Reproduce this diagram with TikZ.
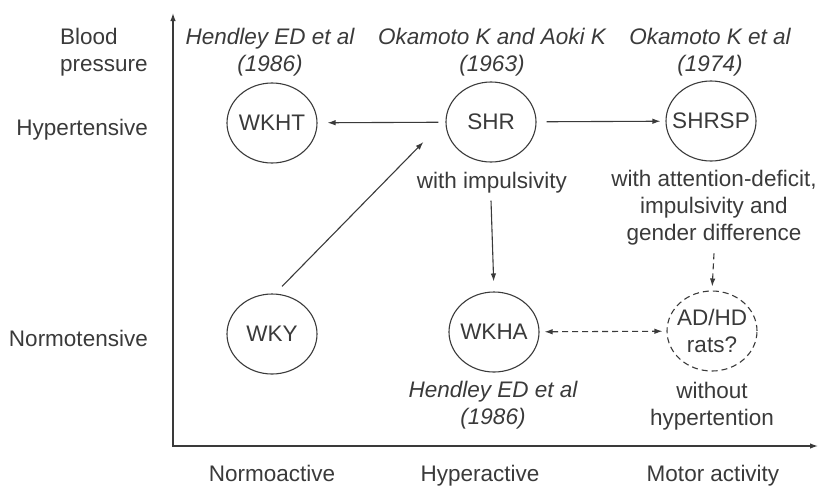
\documentclass[tikz,border=0pt]{standalone}
\usepackage{fontspec}
\setmainfont{Liberation Sans}
\usetikzlibrary{arrows.meta, positioning, shapes.geometric, calc}
\definecolor{ratInk}{HTML}{3A3A3A}

\begin{document}
\begin{tikzpicture}[
    x=1pt, y=-1pt,
    every node/.style={text=ratInk, font=\fontsize{22.5}{27}\selectfont, inner sep=0pt},
    strain/.style={
      ellipse,
      draw=ratInk,
      line width=1.1pt,
      inner sep=-7pt,
      minimum width=90pt,
      minimum height=80pt,
      align=center,
    },
    guess/.style={strain, dash pattern=on 6pt off 4pt},
    cite/.style={align=center, font=\fontsize{22.5}{27}\selectfont\itshape},
    note/.style={align=center},
    arr/.style={-{Latex[length=8pt, width=5.5pt]}, ratInk, line width=1.1pt},
    darr/.style={arr, dash pattern=on 6pt off 4pt},
    axis/.style={{Latex[length=8pt, width=5.5pt]}-{Latex[length=8pt, width=5.5pt]}, ratInk, line width=1.3pt},
  ]
    \useasboundingbox (0,0) rectangle (819,488);

    % axes
    \coordinate (ytop) at (173,13);
    \coordinate (orig) at (173,446);
    \coordinate (xend) at (818,446);
    \draw[axis] (ytop) -- (orig) -- (xend);

    % axis labels
    \node[align=left, anchor=west] (bp) at (60,52) {Blood\\pressure};
    \node[anchor=base east] (hyper) at (148,135) {Hypertensive};
    \node[anchor=base east] (normo) at (148,346) {Normotensive};
    \node[anchor=base] (nact) at (272,481) {Normoactive};
    \node[anchor=base] (hact) at (480,481) {Hyperactive};
    \node[anchor=base] (mact) at (713,481) {Motor activity};

    % strains
    \node[strain] (WKHT) at (272,123) {WKHT};
    \node[strain] (SHR) at (491,122) {SHR};
    \node[strain] (SHRSP) at (711,121) {SHRSP};
    \node[strain] (WKY) at (272,334) {WKY};
    \node[strain] (WKHA) at (494,332) {WKHA};
    \node[guess] (ADHD) at (712,331) {AD/HD\\rats?};

    % references
    \node[cite] (citeWKHT) at (270,52) {Hendley ED et al\\(1986)};
    \node[cite] (citeSHR) at (492,52) {Okamoto K and Aoki K\\(1963)};
    \node[cite] (citeSP) at (710,52) {Okamoto K et al\\(1974)};
    \node[cite, anchor=north] (citeWKHA) at (493,381) {Hendley ED et al\\(1986)};

    % traits
    \node[anchor=base] (shrnote) at (492,188) {with impulsivity};
    \node[note, anchor=north] (spnote) at (714,170) {with attention-deficit,\\impulsivity and\\gender difference};
    \node[note, anchor=north] (adnote) at (712,382) {without\\hypertention};

    % arrows
    \draw[arr, shorten <=7pt, shorten >=10pt] (SHR) -- (WKHT);
    \draw[arr, shorten <=10pt, shorten >=5pt] (SHR) -- (SHRSP);
    \draw[arr] ([shift={(10,-7)}]WKY.north) -- ([shift={(-22,20)}]SHR.west);
    \draw[arr, shorten >=10pt] ([shift={(0,38)}]SHR.south) -- (WKHA.north);
    \draw[darr, shorten >=4pt] ([shift={(0,8)}]spnote.south) -- (ADHD.north);
    \draw[darr, {Latex[length=8pt, width=5.5pt]}-{Latex[length=8pt, width=5.5pt]}, shorten <=5pt, shorten >=4pt] (WKHA) -- (ADHD);
  \end{tikzpicture}
\end{document}
